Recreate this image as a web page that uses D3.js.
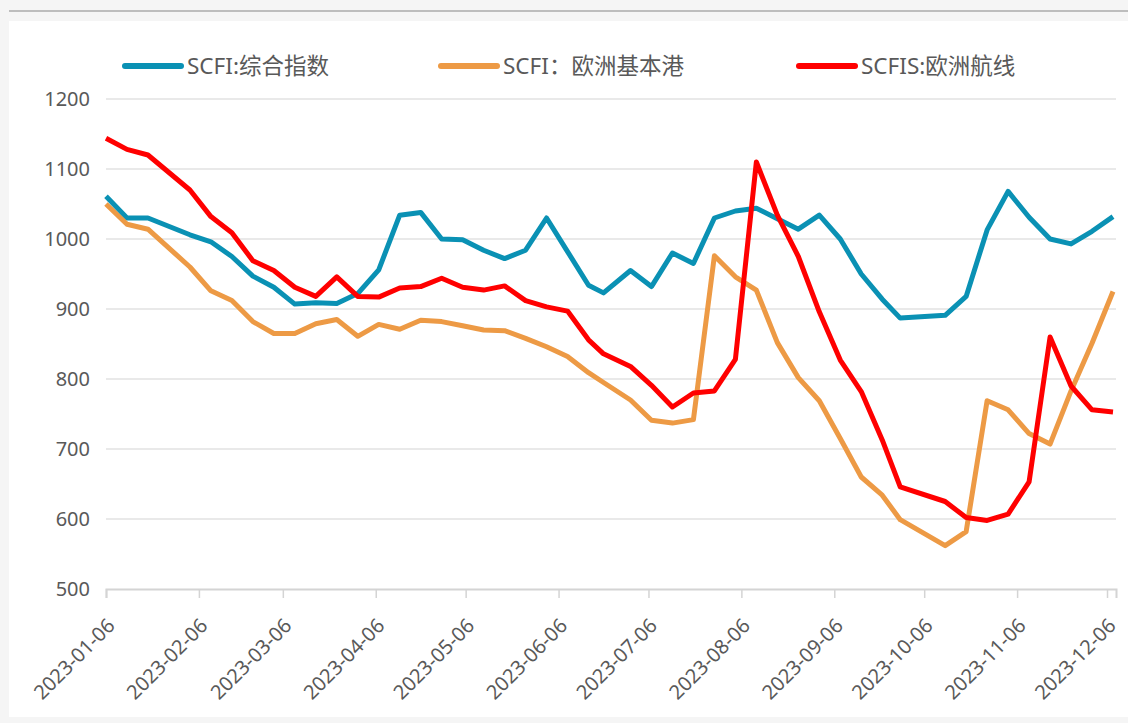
<!DOCTYPE html>
<html>
  <head>
    <meta charset="utf-8">
    <title>SCFI / SCFIS 2023</title>
    <script src="https://d3js.org/d3.v7.min.js"></script>
    <style>
      body { margin: 0; background: #f5f5f5; }
      svg { display: block; font-family: "Noto Sans", "Noto Sans CJK SC", sans-serif; }
      .grid line { stroke: #e2e2e2; stroke-width: 1.5; }
      .tickLabel { fill: #595959; font-size: 20px; }
      .legendText { fill: #595959; font-size: 22.5px; }
      .series { fill: none; stroke-width: 5; stroke-linejoin: round; }
    </style>
  </head>
  <body>
    <svg id="chart" width="1128" height="723"></svg>
    <script>
      // weekly release dates (no release in Spring Festival / National Day weeks)
      const dates = [
        "2023-01-06", "2023-01-13", "2023-01-20", "2023-02-03", "2023-02-10", "2023-02-17", "2023-02-24",
        "2023-03-03", "2023-03-10", "2023-03-17", "2023-03-24", "2023-03-31", "2023-04-07", "2023-04-14",
        "2023-04-21", "2023-04-28", "2023-05-05", "2023-05-12", "2023-05-19", "2023-05-26", "2023-06-02",
        "2023-06-09", "2023-06-16", "2023-06-21", "2023-06-30", "2023-07-07", "2023-07-14", "2023-07-21",
        "2023-07-28", "2023-08-04", "2023-08-11", "2023-08-18", "2023-08-25", "2023-09-01", "2023-09-08",
        "2023-09-15", "2023-09-22", "2023-09-28", "2023-10-13", "2023-10-20", "2023-10-27", "2023-11-03",
        "2023-11-10", "2023-11-17", "2023-11-24", "2023-12-01", "2023-12-08"
      ];
      const scfiComposite = [
        1061, 1030, 1030, 1006, 996, 975, 947,
        931, 907, 909, 908, 922, 956, 1034,
        1038, 1000, 999, 984, 972, 984, 1030,
        982, 934, 923, 955, 932, 980, 965,
        1030, 1040, 1044, 1029, 1014, 1034, 1000,
        950, 914, 887, 891, 918, 1013, 1068,
        1031, 1000, 993, 1011, 1032
      ];
      const scfiEurope = [
        1050, 1021, 1014, 960, 926, 912, 882,
        865, 865, 879, 885, 861, 878, 871,
        884, 882, 876, 870, 869, 858, 846,
        832, 809, 795, 770, 741, 737, 742,
        976, 946, 927, 852, 802, 769, 715,
        660, 634, 599, 562, 582, 769, 756,
        722, 707, 783, 851, 925
      ];
      const scfisEurope = [
        1144, 1128, 1120, 1070, 1032, 1009, 969,
        955, 931, 918, 946, 918, 917, 930,
        932, 944, 931, 927, 933, 912, 903,
        897, 856, 836, 818, 791, 760, 780,
        783, 828, 1110, 1034, 975, 896, 827,
        782, 713, 646, 625, 602, 598, 607,
        653, 860, 790, 756, 753
      ];
      const seriesNames = ["SCFI:综合指数", "SCFI：欧洲基本港", "SCFIS:欧洲航线"];
      const seriesColours = ["#0a91b4", "#ed9a45", "#ff0000"];
      const yTicks = [500, 600, 700, 800, 900, 1000, 1100, 1200];
      const xTickLabels = [
        "2023-01-06", "2023-02-06", "2023-03-06", "2023-04-06", "2023-05-06", "2023-06-06",
        "2023-07-06", "2023-08-06", "2023-09-06", "2023-10-06", "2023-11-06", "2023-12-06"
      ];

      const parse = d3.timeParse("%Y-%m-%d");
      const svg = d3.select("#chart");

      // page frame
      svg.append("line")
        .attr("x1", 9).attr("x2", 1128).attr("y1", 11).attr("y2", 11)
        .attr("stroke", "#bdbdbd").attr("stroke-width", 2);
      svg.append("rect")
        .attr("x", 9).attr("y", 21).attr("width", 1119).attr("height", 696)
        .attr("fill", "#fff");

      const x = d3.scaleTime()
        .domain([parse("2023-01-06"), parse("2023-12-09")])
        .range([106, 1116]);
      const y = d3.scaleLinear()
        .domain([500, 1200])
        .range([589, 99]);

      // gridlines
      svg.append("g")
          .attr("class", "grid")
        .selectAll("line")
          .data(yTicks.slice(1))
        .enter().append("line")
          .attr("x1", x.range()[0]).attr("x2", x.range()[1])
          .attr("y1", function(d) { return y(d); })
          .attr("y2", function(d) { return y(d); });

      // y labels
      svg.append("g")
        .selectAll("text")
          .data(yTicks)
        .enter().append("text")
          .attr("class", "tickLabel")
          .attr("x", 90)
          .attr("y", function(d) { return y(d); })
          .attr("dy", "0.35em")
          .attr("text-anchor", "end")
          .text(function(d) { return d; });

      // x axis
      const xAxis = d3.axisBottom(x)
        .tickValues(xTickLabels.map(parse))
        .tickSize(9)
        .tickFormat("");
      const axisGroup = svg.append("g")
        .attr("transform", "translate(0," + y(500) + ")")
        .call(xAxis);
      axisGroup.select(".domain").attr("stroke", "#d4d4d4").attr("stroke-width", 2);
      axisGroup.selectAll(".tick line").attr("stroke", "#d4d4d4").attr("stroke-width", 1.5);

      svg.append("g")
        .selectAll("text")
          .data(xTickLabels)
        .enter().append("text")
          .attr("class", "tickLabel")
          .attr("text-anchor", "end")
          .attr("transform", function(d) {
            return "translate(" + (x(parse(d)) + 10) + ",627) rotate(-45)";
          })
          .text(function(d) { return d; });

      // lines
      const line = d3.line()
        .x(function(d) { return x(d.date); })
        .y(function(d) { return y(d.value); });
      const allSeries = [scfiComposite, scfiEurope, scfisEurope];
      allSeries.forEach(function(values, i) {
        const pts = dates.map(function(d, j) { return { date: parse(d), value: values[j] }; });
        svg.append("path")
          .attr("class", "series")
          .attr("stroke", seriesColours[i])
          .attr("d", line(pts));
      });

      // legend
      const legendX = [125, 441, 799];
      const legend = svg.append("g")
        .selectAll("g")
          .data(seriesNames)
        .enter().append("g")
          .attr("transform", function(d, i) { return "translate(" + legendX[i] + ",66)"; });
      legend.append("line")
        .attr("x1", 0).attr("x2", 56)
        .attr("stroke", function(d, i) { return seriesColours[i]; })
        .attr("stroke-width", 6)
        .attr("stroke-linecap", "round");
      legend.append("text")
        .attr("class", "legendText")
        .attr("x", 62)
        .attr("dy", "0.35em")
        .text(function(d) { return d; });
    </script>
  </body>
</html>
